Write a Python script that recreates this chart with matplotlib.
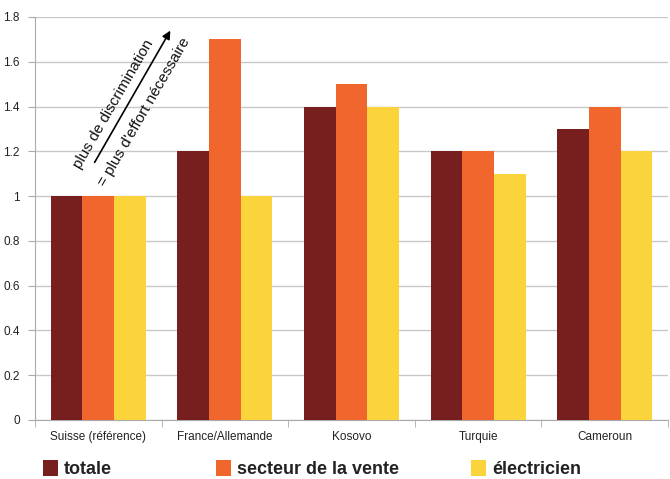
import numpy as np
import matplotlib
matplotlib.use("Agg")
import matplotlib.pyplot as plt

# data
pays = ["Suisse (référence)", "France/Allemande", "Kosovo", "Turquie", "Cameroun"]
totale = [1.0, 1.2, 1.4, 1.2, 1.3]
vente = [1.0, 1.7, 1.5, 1.2, 1.4]
electricien = [1.0, 1.0, 1.4, 1.1, 1.2]
series_labels = ["totale", "secteur de la vente", "électricien"]
colors = ["#771e1f", "#f1662c", "#fbd43c"]

fig = plt.figure(figsize=(6.7, 4.79), dpi=100)
ax = fig.add_axes([35 / 670, 59 / 479, 633 / 670, 403 / 479])

x = np.arange(len(pays))
w = 0.25
bars = []
for i, (vals, c) in enumerate(zip([totale, vente, electricien], colors)):
    b = ax.bar(x + (i - 1) * w, vals, width=w, color=c, zorder=3, label=series_labels[i])
    bars.append(b)

ax.set_xlim(-0.5, len(pays) - 0.5)
ax.set_ylim(0, 1.8)
ax.set_yticks(np.arange(0, 1.81, 0.2))
ax.set_yticklabels(["0", "0.2", "0.4", "0.6", "0.8", "1", "1.2", "1.4", "1.6", "1.8"])
ax.yaxis.grid(True, color="#c8c8c8", linewidth=1.0, zorder=0)

ax.set_xticks(x)
ax.set_xticklabels(pays)
ax.set_xticks(np.arange(-0.5, len(pays)), minor=True)
ax.tick_params(axis="x", which="major", length=0, pad=8, labelsize=8.5, colors="#222222")
ax.tick_params(axis="x", which="minor", length=5, color="#aaaaaa", direction="out")
ax.tick_params(axis="y", length=5, color="#aaaaaa", labelsize=8.5, labelcolor="#222222", pad=6)

for s in ["top", "right"]:
    ax.spines[s].set_visible(False)
for s in ["left", "bottom"]:
    ax.spines[s].set_color("#aaaaaa")

for lab in ax.get_xticklabels() + ax.get_yticklabels():
    lab.set_family("Liberation Sans")

# arrow annotation
ax.annotate("", xy=(0.58, 1.75), xytext=(-0.04, 1.14),
            arrowprops=dict(arrowstyle="-|>", color="black", lw=1.2, mutation_scale=12))
font = dict(family="Liberation Sans", fontsize=11, rotation=60,
            rotation_mode="anchor", ha="center", va="center", color="#111111")
ax.text(0.12, 1.41, "plus de discrimination", **font)
ax.text(0.36, 1.375, "= plus d'effort nécessaire", **font)

# legend: three entries at uneven positions
leg_x = [43 / 670, 216 / 670, 471 / 670]
for b, lx in zip(bars, leg_x):
    lg = fig.legend(handles=[b], loc="center left", bbox_to_anchor=(lx, 10 / 479),
                    frameon=False, handlelength=0.85, handleheight=1.0, handletextpad=0.3,
                    borderpad=0, borderaxespad=0,
                    prop=dict(family="Liberation Sans", weight="bold", size=13))
    for t in lg.get_texts():
        t.set_color("#222222")

fig.savefig("out.png", dpi=100)
